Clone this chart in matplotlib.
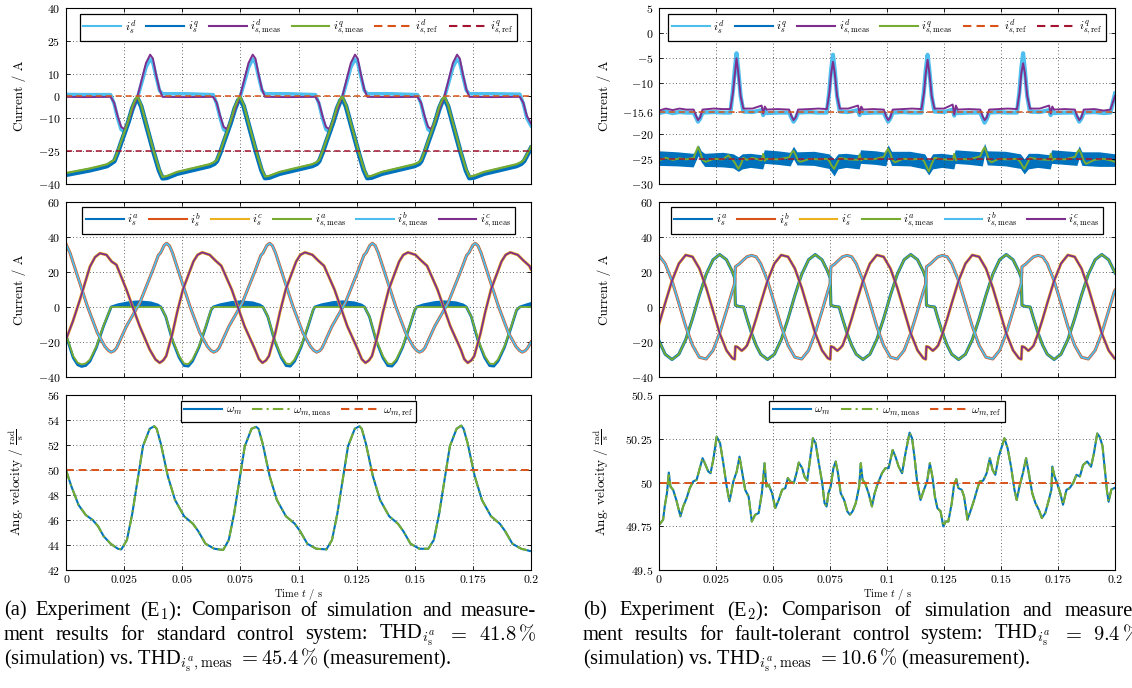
"""Two-column figure: simulation vs. measurement, standard (a) and fault-tolerant (b) control.

Rows: dq currents, phase currents, mechanical angular velocity over 0..0.2 s.
All traces are read off the reference picture as (time in ms, value) pairs.
"""

import matplotlib
matplotlib.use("Agg")
import matplotlib.pyplot as plt
from matplotlib.lines import Line2D
import numpy as np

plt.rcParams["font.family"] = "cmr10"
plt.rcParams["mathtext.fontset"] = "cm"
plt.rcParams["axes.formatter.use_mathtext"] = True

BLUE = "#0072BD"
ORANGE = "#D95319"
YELLOW = "#EDB120"
PURPLE = "#7E2F8E"
GREEN = "#77AC30"
LIGHTBLUE = "#4DBEEE"
DARKRED = "#A2142F"

# ---------------------------------------------------------------- (a) dq currents
IQ_A_MEAS = [
    (0, -35), (5, -34), (10, -33), (14, -32), (17.7, -31),
    (20.8, -29), (22.3, -25), (23.9, -20), (25.6, -15), (27.0, -10.5), (28.5, -5), (30.0, -1.2), (30.8, -0.3),
    (32.3, -4), (34.6, -13), (37.7, -25), (40.0, -33), (41.5, -36.8), (43.3, -36.4), (47.8, -34.5), (55.8, -32.5),
    (61.8, -31), (63.8, -30),
    (64.9, -29), (66.4, -25), (68.0, -20), (69.7, -15), (71.1, -10.5), (72.6, -5), (74.1, -1.2), (74.9, -0.3),
    (76.4, -4), (78.7, -13), (81.8, -25), (84.1, -33), (85.6, -36.6), (87.4, -36.3), (91.9, -34.5), (99.9, -32.5),
    (105.9, -31), (107.9, -30),
    (108.9, -29), (110.4, -25), (112.0, -20), (113.7, -15), (115.1, -10.5), (116.6, -5), (118.1, -1.2), (118.9, -0.3),
    (120.4, -4), (122.7, -13), (125.8, -25), (128.1, -33), (129.6, -36.6), (131.4, -36.3), (135.9, -34.5),
    (143.9, -32.5), (149.9, -31), (151.9, -30),
    (152.8, -29), (154.3, -25), (155.9, -20), (157.6, -15), (159.0, -10.5), (160.5, -5), (162.0, -1.2), (162.8, -0.3),
    (164.3, -4), (166.6, -13), (169.7, -25), (172.0, -33), (173.5, -36.6), (175.3, -36.3), (179.8, -34.5),
    (187.8, -32.5), (193.8, -31), (195.8, -30),
    (197.0, -29), (198.5, -26), (200, -23),
]
IQ_A_SIM = [
    (0, -35.8), (5, -34.8), (10, -33.8), (14, -32.8), (17.7, -31.8),
    (20.8, -29.6), (22.3, -25.6), (23.9, -20.6), (25.6, -15.6), (27.0, -11.1), (28.5, -5.6), (30.0, -1.9), (30.8, -1.2),
    (32.3, -4.6), (34.6, -13.6), (37.7, -25.6), (40.0, -33.8), (41.5, -37.4), (43.3, -37.2), (47.8, -35.3),
    (55.8, -33.3), (61.8, -31.8), (63.8, -30.8),
    (64.9, -29.6), (66.4, -25.6), (68.0, -20.6), (69.7, -15.6), (71.1, -11.1), (72.6, -5.6), (74.1, -1.9), (74.9, -1.2),
    (76.4, -4.6), (78.7, -13.6), (81.8, -25.6), (84.1, -33.8), (85.6, -37.3), (87.4, -37.1), (91.9, -35.3),
    (99.9, -33.3), (105.9, -31.8), (107.9, -30.8),
    (108.9, -29.6), (110.4, -25.6), (112.0, -20.6), (113.7, -15.6), (115.1, -11.1), (116.6, -5.6), (118.1, -1.9),
    (118.9, -1.2), (120.4, -4.6), (122.7, -13.6), (125.8, -25.6), (128.1, -33.8), (129.6, -37.3), (131.4, -37.1),
    (135.9, -35.3), (143.9, -33.3), (149.9, -31.8), (151.9, -30.8),
    (152.8, -29.6), (154.3, -25.6), (155.9, -20.6), (157.6, -15.6), (159.0, -11.1), (160.5, -5.6), (162.0, -1.9),
    (162.8, -1.2), (164.3, -4.6), (166.6, -13.6), (169.7, -25.6), (172.0, -33.8), (173.5, -37.3), (175.3, -37.1),
    (179.8, -35.3), (187.8, -33.3), (193.8, -31.8), (195.8, -30.8),
    (197.0, -29.6), (198.5, -26.6), (200, -23.6),
]
ID_A_MEAS = [
    (0, -0.4), (8, -0.5),
    (19.2, -0.4), (20.7, -3), (22.2, -9), (23.7, -14), (25.0, -15), (26.7, -12), (28.7, -6), (30.8, 0), (32.7, 8),
    (34.4, 15), (36.2, 18.8), (37.4, 17), (38.7, 10), (40.2, 3), (41.5, -0.4), (51.2, -0.5),
    (63.3, -0.4), (64.8, -3), (66.3, -9), (67.8, -14), (69.1, -15), (70.8, -12), (72.8, -6), (74.9, 0), (76.8, 8),
    (78.5, 15), (80.3, 18.8), (81.5, 17), (82.8, 10), (84.3, 3), (85.6, -0.4), (95.3, -0.5),
    (107.3, -0.4), (108.8, -3), (110.3, -9), (111.8, -14), (113.1, -15), (114.8, -12), (116.8, -6), (118.9, 0),
    (120.8, 8), (122.5, 15), (124.3, 18.8), (125.5, 17), (126.8, 10), (128.3, 3), (129.6, -0.4), (139.3, -0.5),
    (151.2, -0.4), (152.7, -3), (154.2, -9), (155.7, -14), (157.0, -15), (158.7, -12), (160.7, -6), (162.8, 0),
    (164.7, 8), (166.4, 15), (168.2, 18.8), (169.4, 17), (170.7, 10), (172.2, 3), (173.5, -0.4), (183.2, -0.5),
    (195.2, -0.4), (196.7, -3), (198.2, -9), (200, -12.5),
]
ID_A_SIM = [
    (0, 0.7), (8, 0.6),
    (19.2, 0.6), (20.7, -3.5), (22.2, -10), (23.7, -15.2), (25.0, -16.2), (26.7, -13), (28.7, -6.5), (30.8, -0.5),
    (32.7, 6.5), (34.4, 13), (36.2, 16.8), (37.4, 15), (38.7, 9), (40.2, 2.5), (41.5, 1.0), (51.2, 1.0),
    (63.3, 0.6), (64.8, -3.5), (66.3, -10), (67.8, -15.2), (69.1, -16.2), (70.8, -13), (72.8, -6.5), (74.9, -0.5),
    (76.8, 6.5), (78.5, 13), (80.3, 16.8), (81.5, 15), (82.8, 9), (84.3, 2.5), (85.6, 1.0), (95.3, 1.0),
    (107.3, 0.6), (108.8, -3.5), (110.3, -10), (111.8, -15.2), (113.1, -16.2), (114.8, -13), (116.8, -6.5),
    (118.9, -0.5), (120.8, 6.5), (122.5, 13), (124.3, 16.8), (125.5, 15), (126.8, 9), (128.3, 2.5), (129.6, 1.0),
    (139.3, 1.0),
    (151.2, 0.6), (152.7, -3.5), (154.2, -10), (155.7, -15.2), (157.0, -16.2), (158.7, -13), (160.7, -6.5),
    (162.8, -0.5), (164.7, 6.5), (166.4, 13), (168.2, 16.8), (169.4, 15), (170.7, 9), (172.2, 2.5), (173.5, 1.0),
    (183.2, 1.0),
    (195.2, 0.8), (196.7, -3.5), (198.2, -10), (200, -13.5),
]
IDQ_A_REF = [0.0, -25.0]

# ---------------------------------------------------------------- (a) phase currents
IA_A_MEAS = [
    (0, -15.7), (3.1, -28), (5.0, -31.8), (6.7, -32.8), (8.5, -32.2), (10.3, -30), (13.1, -22.4), (16, -11),
    (18.9, -1.5),
    (19.4, 0), (40.8, 0), (42.9, -5.3), (45.8, -18.6), (48.7, -28), (50.8, -32.3), (52.6, -32.6), (54.4, -30),
    (57.2, -22.4), (60.1, -11), (62.4, -1.5),
    (63.3, 0), (84.7, 0), (86.8, -5.3), (89.7, -18.6), (92.6, -28), (94.7, -32.3), (96.5, -32.6), (98.3, -30),
    (101.1, -22.4), (104.0, -11), (106.3, -1.5),
    (107.0, 0), (128.4, 0), (130.5, -5.3), (133.4, -18.6), (136.3, -28), (138.4, -32.3), (140.2, -32.6),
    (142.0, -30), (144.8, -22.4), (147.7, -11), (150.0, -1.5),
    (150.8, 0), (172.2, 0), (174.3, -5.3), (177.2, -18.6), (180.1, -28), (182.2, -32.3), (184.0, -32.6),
    (185.8, -30), (188.6, -22.4), (191.5, -11), (193.8, -1.5),
    (195.2, 0), (200, 0),
]
IA_A_SIM = [
    (0, -16.2), (3.1, -29), (5.0, -33), (6.7, -34), (8.5, -33.4), (10.3, -31), (13.1, -23), (16, -11.5),
    (18.9, -1.8),
    (19.4, 0), (22.4, 1.3), (27.4, 2.6), (31.4, 3.0), (36.4, 2.4), (39.4, 1.2), (40.8, 0), (42.9, -5.5),
    (45.8, -19.2), (48.7, -29), (50.8, -33.5), (52.6, -33.8), (54.4, -31), (57.2, -23), (60.1, -11.5), (62.4, -1.8),
    (63.3, 0), (66.3, 1.3), (71.3, 2.6), (75.3, 3.0), (80.3, 2.4), (83.3, 1.2), (84.7, 0), (86.8, -5.5),
    (89.7, -19.2), (92.6, -29), (94.7, -33.5), (96.5, -33.8), (98.3, -31), (101.1, -23), (104.0, -11.5),
    (106.3, -1.8),
    (107.0, 0), (110.0, 1.3), (115.0, 2.6), (119.0, 3.0), (124.0, 2.4), (127.0, 1.2), (128.4, 0), (130.5, -5.5),
    (133.4, -19.2), (136.3, -29), (138.4, -33.5), (140.2, -33.8), (142.0, -31), (144.8, -23), (147.7, -11.5),
    (150.0, -1.8),
    (150.8, 0), (153.8, 1.3), (158.8, 2.6), (162.8, 3.0), (167.8, 2.4), (170.8, 1.2), (172.2, 0), (174.3, -5.5),
    (177.2, -19.2), (180.1, -29), (182.2, -33.5), (184.0, -33.8), (185.8, -31), (188.6, -23), (191.5, -11.5),
    (193.8, -1.8),
    (195.2, 0), (198.2, 1.3), (200, 2.0),
]
IB_A = [
    (0, 36), (1.7, 31), (5.0, 17.5), (9.2, 0.4), (13.5, -14.8), (16.7, -22.5), (18.2, -24.8), (19.4, -25.8),
    (20.7, -25), (21.7, -23.5), (26.0, -11), (31.7, 2.3), (37.4, 21.3), (39.7, 29.5), (40.7, 31), (42.2, 35.2),
    (43.3, 36.4), (44.5, 35), (45.8, 31), (49.1, 17.5), (53.3, 0.4), (57.6, -14.8), (60.8, -22.5), (62.3, -24.8),
    (63.5, -25.8), (64.8, -25), (65.8, -23.5), (70.1, -11), (75.8, 2.3), (81.5, 21.3), (83.8, 29.5), (84.8, 31),
    (86.4, 35.2),
    (87.6, 36.4), (88.8, 35), (90.1, 31), (93.4, 17.5), (97.6, 0.4), (101.9, -14.8), (105.1, -22.5),
    (106.6, -24.8), (107.8, -25.8), (109.1, -25), (110.1, -23.5), (114.4, -11), (120.1, 2.3), (125.8, 21.3),
    (128.1, 29.5), (129.1, 31), (130.7, 35.2),
    (131.8, 36.4), (133.0, 35), (134.3, 31), (137.6, 17.5), (141.8, 0.4), (146.1, -14.8), (149.3, -22.5),
    (150.8, -24.8), (152.0, -25.8), (153.3, -25), (154.3, -23.5), (158.6, -11), (164.3, 2.3), (170.0, 21.3),
    (172.3, 29.5), (173.3, 31), (174.9, 35.2),
    (176.0, 36.4), (177.2, 35), (178.5, 31), (181.8, 17.5), (186.0, 0.4), (190.3, -14.8), (193.5, -22.5),
    (195.0, -24.8), (196.2, -25.8), (197.5, -25), (198.5, -23.5), (200, -20),
]
IC_A = [
    (0, -18.6), (3, -8), (6.0, 4.2), (10.3, 23.1), (12.5, 28.5), (14.6, 30.7), (17.4, 29.8), (19.6, 26),
    (21.7, 24.1), (26.0, 9.9), (31.7, -11), (36.0, -24.3), (38.5, -30),
    (40.3, -31.9), (41.8, -30.5), (43.1, -28), (45.8, -15), (47.8, -3), (50.3, 10), (54.8, 26), (56.6, 29.8),
    (58.6, 31.2), (61.8, 29.8), (64.3, 26.5), (66.8, 23.5), (71.3, 9.9), (76.8, -11), (81.3, -24.3), (83.0, -29.8),
    (84.5, -31.9), (86.0, -30.5), (87.3, -28), (90.0, -15), (92.0, -3), (94.5, 10), (99.0, 26), (100.8, 29.8),
    (102.8, 31.2), (106.0, 29.8), (108.5, 26.5), (111.0, 23.5), (115.5, 9.9), (121.0, -11), (125.5, -24.3),
    (127.2, -29.8),
    (128.8, -31.9), (130.3, -30.5), (131.6, -28), (134.3, -15), (136.3, -3), (138.8, 10), (143.3, 26),
    (145.1, 29.8), (147.1, 31.2), (150.3, 29.8), (152.8, 26.5), (155.3, 23.5), (159.8, 9.9), (165.3, -11),
    (169.8, -24.3), (171.3, -29.8),
    (172.8, -31.9), (174.3, -30.5), (175.6, -28), (178.3, -15), (180.3, -3), (182.8, 10), (187.3, 26),
    (189.1, 29.8), (191.1, 31.2), (194.3, 29.8), (196.8, 26.5), (199.3, 23.5), (200, 21.5),
]

# ---------------------------------------------------------------- (a) angular velocity
W_A = [
    (0, 50.0), (2.3, 48.7), (5.4, 47.2), (8.5, 46.4), (11.5, 46.0), (13.8, 45.5), (16.2, 44.7), (19.2, 44.1),
    (22.3, 43.7),
    (23.8, 43.65), (26.2, 44.4), (28.5, 46.5), (30.8, 49.2), (33.1, 51.9), (36.0, 53.3), (38.0, 53.5), (39.0, 53.3),
    (40.8, 52.1), (43.8, 49.5), (46.9, 47.6), (50.8, 46.3), (54.6, 45.7), (56.9, 45.1), (60.0, 44.1), (63.8, 43.7),
    (67.6, 43.6), (70.0, 44.4), (72.3, 46.5), (74.6, 49.2), (76.9, 51.9), (79.8, 53.3), (81.8, 53.45), (82.8, 53.3),
    (84.6, 52.1), (87.6, 49.5), (90.7, 47.6), (94.6, 46.3), (98.4, 45.7), (100.7, 45.1), (103.8, 44.1),
    (107.6, 43.7),
    (112.0, 43.65), (114.4, 44.4), (116.7, 46.5), (119.0, 49.2), (121.3, 51.9), (124.2, 53.3), (126.2, 53.5),
    (127.2, 53.3), (129.0, 52.1), (132.0, 49.5), (135.1, 47.6), (139.0, 46.3), (142.8, 45.7), (145.1, 45.1),
    (148.2, 44.1), (152.0, 43.7),
    (155.8, 43.7), (158.2, 44.4), (160.5, 46.5), (162.8, 49.2), (165.1, 51.9), (168.0, 53.3), (170.0, 53.55),
    (171.0, 53.3), (172.8, 52.1), (175.8, 49.5), (178.9, 47.6), (182.8, 46.3), (186.6, 45.7), (188.9, 45.1),
    (192.0, 44.1), (195.8, 43.7), (200, 43.5),
]
W_A_REF = 50.0

# ---------------------------------------------------------------- (b) dq currents
ID_B_MEAS = [
    (0, -15.4), (3, -15.0), (6, -15.3), (9, -15.0), (12, -15.2), (15.2, -15.2), (16.3, -16.5), (17.1, -17.3),
    (18.0, -16.8), (19.1, -15.2), (24, -15.0), (28, -15.1), (31.3, -15.1), (32.4, -12), (33.3, -8), (34.0, -5),
    (34.8, -8), (35.8, -12.5), (37.0, -15), (41, -15), (45.0, -14.4), (45.7, -16), (46.4, -14.6), (47.2, -15.2),
    (52, -15.1), (57.1, -15.2), (58.1, -16.5), (59.0, -17.3), (59.9, -16.8), (61.0, -15.2), (66, -15.1),
    (70, -15.0), (73.6, -15.1), (74.7, -12), (75.5, -8), (76.3, -5.7), (77.1, -8), (78.1, -12.5), (79.3, -15),
    (83, -15.0), (87.3, -14.4), (88.0, -16), (88.7, -14.6), (89.5, -15.2), (94, -15.1), (98.6, -15.2),
    (99.6, -16.5), (100.5, -17.3), (101.4, -16.8), (102.5, -15.2), (107, -15.1), (111, -15.0), (115.1, -15.1),
    (116.2, -12), (117.0, -8), (117.8, -5.3), (118.6, -8), (119.6, -12.5), (120.8, -15), (125, -15.0),
    (128.8, -14.2), (129.5, -16.2), (130.2, -14.4), (131, -15.2), (136, -15.1), (140.9, -15.2), (141.9, -16.5),
    (142.8, -17.3), (143.7, -16.8), (144.8, -15.2), (149, -15.1), (153, -15.0), (157.0, -15.1), (158.1, -12),
    (158.9, -8), (159.7, -6), (160.5, -8), (161.5, -12.5), (162.7, -15), (167, -15.0), (171.1, -14.4),
    (171.8, -16), (172.5, -14.6), (173.3, -15.2), (178, -15.1), (182.4, -15.2), (183.4, -16.5), (184.3, -17.3),
    (185.2, -16.8), (186.3, -15.2), (191, -15.1), (195, -15.4), (198, -15.2), (200, -12.5),
]
ID_B_SIM = [
    (0, -15.9), (3, -15.6), (6, -15.9), (9, -15.7), (12, -15.8), (15.2, -15.8), (16.3, -16.8), (17.1, -17.6),
    (18.0, -17.0), (19.1, -15.8), (24, -15.7), (28, -15.8), (31.3, -15.8), (32.4, -11.5), (33.3, -7), (34.0, -4.0),
    (34.8, -7.5), (35.8, -12.5), (37.0, -15.6), (41, -15.7), (45.0, -15.3), (45.7, -16.3), (46.4, -15.4),
    (47.2, -15.9), (52, -15.8), (57.1, -15.8), (58.1, -16.8), (59.0, -17.6), (59.9, -17.0), (61.0, -15.8),
    (66, -15.7), (70, -15.8), (73.6, -15.8), (74.7, -11.5), (75.5, -7.3), (76.3, -4.3), (77.1, -7.5),
    (78.1, -12.5), (79.3, -15.6), (83, -15.7), (87.3, -15.3), (88.0, -16.3), (88.7, -15.4), (89.5, -15.9),
    (94, -15.8), (98.6, -15.8), (99.6, -16.8), (100.5, -17.6), (101.4, -17.0), (102.5, -15.8), (107, -15.7),
    (111, -15.8), (115.1, -15.8), (116.2, -11.5), (117.0, -7.3), (117.8, -4.3), (118.6, -7.5), (119.6, -12.5),
    (120.8, -15.6), (125, -15.7), (128.8, -15.2), (129.5, -16.4), (130.2, -15.3), (131, -15.9), (136, -15.8),
    (140.9, -15.8), (141.9, -16.9), (142.8, -17.8), (143.7, -17.1), (144.8, -15.8), (149, -15.7), (153, -15.8),
    (157.0, -15.8), (158.1, -11.5), (158.9, -7), (159.7, -4.0), (160.5, -7.5), (161.5, -12.5), (162.7, -15.6),
    (167, -15.7), (171.1, -15.3), (171.8, -16.3), (172.5, -15.4), (173.3, -15.9), (178, -15.8), (182.4, -15.8),
    (183.4, -16.8), (184.3, -17.6), (185.2, -17.0), (186.3, -15.8), (191, -15.7), (195, -15.9), (198, -15.8),
    (200, -12.0),
]
IQ_B_MEAS = [
    (0, -25.3), (3, -24.8), (6, -25.2), (9, -24.9), (12, -25.1), (15.2, -24.8), (16.3, -23.5), (17.1, -22.6),
    (18.0, -23.6), (19.1, -25.2), (20.5, -25.6), (24, -25.0), (28, -25.1), (30.4, -24.3), (31.3, -24.8),
    (32.4, -25.2), (33.3, -25.8), (34.8, -27), (35.8, -26.2), (37.0, -24.8), (38.5, -25.2), (41, -24.8),
    (45.0, -25.3), (45.7, -24.0), (46.4, -25.4), (47.2, -25), (52, -25.1), (57.1, -24.7), (58.1, -23.8),
    (59.0, -23.4), (59.9, -24.2), (61.0, -25.3), (62.0, -25.6), (66, -25.0), (70, -25.1), (73.6, -25.0),
    (74.7, -25.4), (75.5, -26.2), (76.8, -27), (78.1, -25.8), (79.3, -24.8), (83, -25.1), (87.3, -25.2),
    (88.0, -24.1), (88.7, -25.3), (89.5, -25), (94, -25.1), (98.6, -24.6), (99.6, -23.6), (100.5, -23.0),
    (101.4, -23.9), (102.5, -25.3), (103.5, -25.7), (107, -25.0), (111, -25.1), (115.1, -25.0), (116.2, -25.4),
    (117.0, -26.2), (118.3, -27.5), (119.6, -26), (120.8, -24.8), (125, -25.1), (128.8, -25.2), (129.5, -24.0),
    (130.2, -25.3), (131, -25.0), (136, -25.1), (140.9, -24.5), (141.9, -23.4), (142.8, -22.7), (143.7, -23.8),
    (144.8, -25.3), (145.8, -25.7), (149, -25.0), (153, -25.1), (157.0, -25.0), (158.1, -25.4), (158.9, -26.0),
    (160.2, -27.0), (161.5, -25.9), (162.7, -24.8), (167, -25.1), (171.1, -25.2), (171.8, -24.0), (172.5, -25.3),
    (173.3, -25.0), (178, -25.1), (182.4, -24.6), (183.4, -23.7), (184.3, -23.2), (185.2, -24.0), (186.3, -25.4),
    (187.3, -26.0), (191, -25.2), (195, -25.0), (198, -25.3), (200, -25.6),
]
# noisy simulated i_q is drawn as a band: (t, upper edge, lower edge)
IQ_B_SIM_BAND = [
    (0, -23.4, -26.3), (8, -23.6, -26.4), (15, -23.9, -26.6), (16.5, -23.2, -25.0), (17.2, -22.2, -24.4),
    (18.5, -23.4, -25.6), (20, -23.9, -26.5), (28, -23.7, -26.6), (32.5, -24.0, -26.8), (34.8, -24.6, -27.5),
    (36.5, -24.0, -27.0), (40, -23.9, -26.7), (45.5, -24.2, -27.0), (46.2, -23.2, -25.9), (52, -23.4, -26.1),
    (57.5, -23.7, -26.4), (59, -22.5, -25.0), (60.5, -23.6, -26.2), (68, -23.5, -26.3), (74.5, -24.0, -26.9),
    (76.8, -25.0, -28.4), (78.5, -24.0, -27.0), (82, -23.9, -26.7), (87.8, -24.2, -27.0), (88.4, -23.2, -25.9),
    (95, -23.4, -26.1), (99.5, -23.7, -26.4), (100.5, -22.2, -24.5), (102, -23.5, -26.3), (110, -23.5, -26.4),
    (116.5, -24.0, -27.0), (118.3, -25.3, -28.2), (120, -24.0, -27.0), (124, -23.9, -26.7), (129.3, -24.2, -27.0),
    (129.9, -23.2, -25.9), (136, -23.4, -26.1), (141.8, -23.6, -26.4), (142.8, -21.9, -24.2), (144, -23.4, -26.2),
    (152, -23.5, -26.4), (158.5, -24.0, -26.9), (160.2, -25.0, -28.0), (162, -23.9, -27.0), (166, -23.9, -26.7),
    (171.6, -24.2, -27.0), (172.2, -23.2, -25.9), (178, -23.4, -26.1), (183.3, -23.6, -26.3), (184.3, -22.4, -24.8),
    (185.5, -23.6, -26.3), (193, -23.6, -26.5), (200, -24.0, -26.5),
]
IDQ_B_REF = [-15.6, -25.0]

# ---------------------------------------------------------------- (b) phase currents
IA_B = [
    (0, -19.3), (2.7, -27), (5.7, -30), (8.7, -27), (11.7, -18.7), (14.7, -6.7), (17.7, 6.7), (20.7, 18.7),
    (23.7, 27),
    (26.6, 30), (29.6, 27), (32.1, 20.4), (33.2, 16.5), (33.5, 1), (35.1, 0.3), (37.1, 0), (38.6, -6.7),
    (40.6, -15), (42.6, -21.9), (44.6, -27), (47.6, -30), (50.6, -27), (53.6, -18.7), (56.6, -6.7), (59.6, 6.7),
    (62.6, 18.7), (65.6, 27),
    (68.5, 30), (71.5, 27), (74.0, 20.4), (75.1, 16.5), (75.4, 1), (77.0, 0.3), (79.0, 0), (80.5, -6.7),
    (82.5, -15), (84.5, -21.9), (86.5, -27), (89.5, -30), (92.5, -27), (95.5, -18.7), (98.5, -6.7), (101.5, 6.7),
    (104.5, 18.7), (107.5, 27),
    (110.4, 30), (113.4, 27), (115.9, 20.4), (117.0, 16.5), (117.3, 1), (118.9, 0.3), (120.9, 0), (122.4, -6.7),
    (124.4, -15), (126.4, -21.9), (128.4, -27), (131.4, -30), (134.4, -27), (137.4, -18.7), (140.4, -6.7),
    (143.4, 6.7), (146.4, 18.7), (149.4, 27),
    (152.3, 30), (155.3, 27), (157.8, 20.4), (158.9, 16.5), (159.2, 1), (160.8, 0.3), (162.8, 0), (164.3, -6.7),
    (166.3, -15), (168.3, -21.9), (170.3, -27), (173.3, -30), (176.3, -27), (179.3, -18.7), (182.3, -6.7),
    (185.3, 6.7), (188.3, 18.7), (191.3, 27),
    (194.2, 30), (197.2, 27), (199.7, 20.4), (200, 19.5),
]
IB_B = [
    (0, 29.4), (2.7, 24.8), (5.7, 15), (8.7, 2.2), (11.7, -11), (14.7, -21.9), (17.7, -28.7), (20.7, -29.7),
    (23.7, -24.8),
    (26.6, -15), (29.6, -2.2), (32.1, 8.8), (33.2, 13.4), (33.5, 23), (35.1, 24.5), (37.1, 27), (38.6, 28.7),
    (40.6, 29.5), (42.6, 28.7), (44.6, 24.8), (47.6, 15), (50.6, 2.2), (53.6, -11), (56.6, -21.9), (59.6, -28.7),
    (62.6, -29.7), (65.6, -24.8),
    (68.5, -15), (71.5, -2.2), (74.0, 8.8), (75.1, 13.4), (75.4, 23), (77.0, 24.5), (79.0, 27), (80.5, 28.7),
    (82.5, 29.5), (84.5, 28.7), (86.5, 24.8), (89.5, 15), (92.5, 2.2), (95.5, -11), (98.5, -21.9), (101.5, -28.7),
    (104.5, -29.7), (107.5, -24.8),
    (110.4, -15), (113.4, -2.2), (115.9, 8.8), (117.0, 13.4), (117.3, 23), (118.9, 24.5), (120.9, 27),
    (122.4, 28.7), (124.4, 29.5), (126.4, 28.7), (128.4, 24.8), (131.4, 15), (134.4, 2.2), (137.4, -11),
    (140.4, -21.9), (143.4, -28.7), (146.4, -29.7), (149.4, -24.8),
    (152.3, -15), (155.3, -2.2), (157.8, 8.8), (158.9, 13.4), (159.2, 23), (160.8, 24.5), (162.8, 27),
    (164.3, 28.7), (166.3, 29.5), (168.3, 28.7), (170.3, 24.8), (173.3, 15), (176.3, 2.2), (179.3, -11),
    (182.3, -21.9), (185.3, -28.7), (188.3, -29.7), (191.3, -24.8),
    (194.2, -15), (197.2, -2.2), (199.7, 8.8), (200, 9.5),
]
IC_B = [
    (0, -9.8), (0.7, -6.7), (2.7, 2.2), (5.7, 15), (8.7, 24.8), (11.7, 29.7), (14.7, 28.7), (17.7, 22),
    (20.7, 11), (23.7, -2.2),
    (26.6, -15), (29.6, -24.8), (32.1, -29.2), (33.2, -29.9), (33.5, -22.5), (34.6, -23), (36.3, -25),
    (37.6, -23.5), (38.6, -22), (40.6, -15), (42.6, -6.7), (44.6, 2.2), (47.6, 15), (50.6, 24.8), (53.6, 29.7),
    (56.6, 28.7), (59.6, 22), (62.6, 11), (65.6, -2.2),
    (68.5, -15), (71.5, -24.8), (74.0, -29.2), (75.1, -29.9), (75.4, -22.5), (76.5, -23), (78.2, -25),
    (79.5, -23.5), (80.5, -22), (82.5, -15), (84.5, -6.7), (86.5, 2.2), (89.5, 15), (92.5, 24.8), (95.5, 29.7),
    (98.5, 28.7), (101.5, 22), (104.5, 11), (107.5, -2.2),
    (110.4, -15), (113.4, -24.8), (115.9, -29.2), (117.0, -29.9), (117.3, -22.5), (118.4, -23), (120.1, -25),
    (121.4, -23.5), (122.4, -22), (124.4, -15), (126.4, -6.7), (128.4, 2.2), (131.4, 15), (134.4, 24.8),
    (137.4, 29.7), (140.4, 28.7), (143.4, 22), (146.4, 11), (149.4, -2.2),
    (152.3, -15), (155.3, -24.8), (157.8, -29.2), (158.9, -29.9), (159.2, -22.5), (160.3, -23), (162.0, -25),
    (163.3, -23.5), (164.3, -22), (166.3, -15), (168.3, -6.7), (170.3, 2.2), (173.3, 15), (176.3, 24.8),
    (179.3, 29.7), (182.3, 28.7), (185.3, 22), (188.3, 11), (191.3, -2.2),
    (194.2, -15), (197.2, -24.8), (199.7, -29.2), (200, -29.5),
]

# ---------------------------------------------------------------- (b) angular velocity
W_B = [
    (0, 49.758), (1.8, 49.787), (2.5, 49.863), (3.5, 49.94), (4.3, 50.057), (5.0, 49.977), (6.2, 49.958),
    (7.6, 49.9), (9.4, 49.806), (10.6, 49.863), (12.1, 49.91), (13.5, 49.968), (15, 50.006), (16.5, 50.015),
    (17.9, 50.082), (19.1, 50.139), (20.1, 50.11), (21.6, 50.063), (22.6, 50.053), (23.8, 50.13), (25.3, 50.262),
    (26.8, 50.224), (28.2, 50.11), (29.7, 49.977), (30.9, 49.892), (31.5, 49.93), (32.6, 50.006), (34.1, 50.063),
    (35.3, 50.148), (36.3, 50.072), (37.8, 49.958), (39.3, 49.92), (40.7, 49.777), (42.2, 49.816),
    (43.7, 49.825), (45.1, 49.939), (46.3, 50.11), (47.1, 49.977), (48.1, 49.987), (49.6, 49.939), (51.0, 49.854),
    (52.5, 49.9), (54.0, 49.958), (55.4, 49.968), (56.5, 50.025), (57.6, 50.006), (59.1, 49.996), (60.3, 50.053),
    (61.3, 50.114), (62.8, 50.082), (63.8, 50.034), (65, 50.011), (66.2, 50.129), (67.5, 50.253), (68.7, 50.224),
    (70.1, 50.11), (71.6, 49.996), (72.6, 49.882), (73.5, 49.863), (74.3, 49.939), (75.3, 49.977), (76.5, 50.082),
    (77.5, 50.12), (78.5, 50.053), (79.7, 49.939), (81.2, 49.9), (82.6, 49.835), (83.7, 49.816), (84.9, 49.835),
    (86.3, 49.882), (87.8, 49.977), (88.5, 50.11), (89.3, 50.015), (90.4, 49.996), (91.9, 49.939),
    (93.4, 49.863), (94.6, 49.939), (96, 49.996), (97.8, 50.053), (99.3, 50.082), (100.7, 50.082),
    (102.5, 50.186), (103.7, 50.148), (105.1, 50.091), (106.6, 50.053), (108.1, 50.167), (109.9, 50.285),
    (111, 50.253), (112.2, 50.129), (113.2, 50.006), (114.7, 49.9), (116.2, 49.958), (117.6, 50.006),
    (118.8, 50.11), (119.9, 50.034), (121, 49.92), (122.1, 49.854), (123.5, 49.835), (124.7, 49.749),
    (125.7, 49.777), (126.9, 49.777), (128.4, 49.882), (129.4, 49.987), (130.4, 50.019), (131.3, 49.968),
    (132.8, 49.958), (133.8, 49.92), (135.3, 49.787), (136.8, 49.844), (138.2, 49.9), (139.7, 49.968),
    (140.7, 50.006), (142.2, 50.011), (143.7, 50.053), (145.1, 50.139), (146.3, 50.072), (147.5, 50.044),
    (149, 50.148), (151.5, 50.253), (152.9, 50.196), (154.4, 50.091), (155.9, 49.958), (156.9, 49.9),
    (158.1, 49.977), (159.6, 50.053), (161, 50.139), (162.2, 50.053), (163.7, 49.939), (165.1, 49.882),
    (166.6, 49.844), (167.9, 49.797), (169.4, 49.825), (170.6, 49.882), (172.1, 49.958), (172.5, 50.091),
    (173.5, 50.034), (174.6, 49.996), (176, 49.939), (177.2, 49.873), (178.7, 49.958), (180.1, 49.968),
    (181.6, 49.996), (183.1, 50.044), (184.6, 50.034), (186, 50.1), (187.8, 50.12), (189.5, 50.09),
    (190.8, 50.17), (192.2, 50.28), (193.3, 50.26), (194.5, 50.21), (195.6, 50.07), (196.5, 49.95),
    (197.2, 49.89), (198.4, 49.96), (200, 49.97),
]
W_B_REF = 50.0

# ---------------------------------------------------------------- ticks and texts
X_TICKS = [0, 0.025, 0.05, 0.075, 0.1, 0.125, 0.15, 0.175, 0.2]
X_TICK_LABELS = ["0", "0.025", "0.05", "0.075", "0.1", "0.125", "0.15", "0.175", "0.2"]
Y_TICKS_DQ_A = [-40, -25, -10, 0, 10, 25, 40]
Y_TICKS_DQ_B = [-30, -25, -20, -15.6, -10, -5, 0, 5]
Y_TICKS_ABC = [-40, -20, 0, 20, 40, 60]
Y_TICKS_W_A = [42, 44, 46, 48, 50, 52, 54, 56]
Y_TICKS_W_B = [49.5, 49.75, 50, 50.25, 50.5]

LABELS_DQ = [r"$i_s^d$", r"$i_s^q$", r"$i_{s,\mathrm{meas}}^d$", r"$i_{s,\mathrm{meas}}^q$",
             r"$i_{s,\mathrm{ref}}^d$", r"$i_{s,\mathrm{ref}}^q$"]
LABELS_ABC = [r"$i_s^a$", r"$i_s^b$", r"$i_s^c$", r"$i_{s,\mathrm{meas}}^a$", r"$i_{s,\mathrm{meas}}^b$",
              r"$i_{s,\mathrm{meas}}^c$"]
LABELS_W = [r"$\omega_m$", r"$\omega_{m,\mathrm{meas}}$", r"$\omega_{m,\mathrm{ref}}$"]

# caption: first two lines are justified word by word, the last line is set plain
CAPTION_A_WORDS = [
    ["(a)", "Experiment", "(E$_1$):", "Comparison", "of", "simulation", "and", "measure-"],
    ["ment", "results", "for", "standard", "control", "system:", r"THD$_{i_\mathrm{s}^a}$", "$=$", r"$41.8\,\%$"],
]
CAPTION_A_LAST = r"(simulation) vs. THD$_{i_\mathrm{s}^a,\mathrm{meas}}$ $= 45.4\,\%$ (measurement)."
CAPTION_B_WORDS = [
    ["(b)", "Experiment", "(E$_2$):", "Comparison", "of", "simulation", "and", "measure-"],
    ["ment", "results", "for", "fault-tolerant", "control", "system:", r"THD$_{i_\mathrm{s}^a}$", "$=$",
     r"$9.4\,\%$"],
]
CAPTION_B_LAST = r"(simulation) vs. THD$_{i_\mathrm{s}^a,\mathrm{meas}}$ $= 10.6\,\%$ (measurement)."

DASH = (0, (4, 2.5))
DASHDOT = (0, (5, 2, 1, 2))
CAPTION_FONT = dict(fontsize=14.8, family=["Liberation Serif", "DejaVu Serif"])


def xy(pairs):
    arr = np.asarray(pairs, dtype=float)
    return arr[:, 0] / 1000.0, arr[:, 1]


def tick_text(v):
    return f"${v:g}$"


def style(ax, yticks, ylim, ylabel, label_x, bottom):
    ax.set_xlim(0, 0.2)
    ax.set_ylim(*ylim)
    ax.set_xticks(X_TICKS)
    ax.set_xticklabels(X_TICK_LABELS if bottom else [])
    ax.set_yticks(yticks, [tick_text(v) for v in yticks])
    ax.tick_params(direction="in", top=True, right=True, length=3, width=0.6, labelsize=8.5, pad=4)
    ax.grid(True, color="#333333", linestyle=(0, (1, 3)), linewidth=0.6)
    for s in ax.spines.values():
        s.set_linewidth(0.8)
    ax.set_ylabel(ylabel, fontsize=9.5)
    ax.yaxis.set_label_coords(label_x, 0.5)


def legend(ax, entries, labels, y):
    # legend keys drawn as plain thin lines, like the reference
    handles = [Line2D([], [], color=c, lw=1.5, linestyle=ls) for c, ls in entries]
    leg = ax.legend(handles, labels, loc="upper center", bbox_to_anchor=(0.5, y), ncol=len(handles),
                    frameon=True, fancybox=False, edgecolor="black", framealpha=1, fontsize=8.5,
                    handlelength=3.2, handletextpad=0.3, columnspacing=0.85, borderpad=0.3, borderaxespad=0)
    leg.get_frame().set_linewidth(0.9)


def justified(fig, renderer, words, x0_px, x1_px, y_px):
    texts = [fig.text(0, 1 - y_px / 688, w, ha="left", va="center", **CAPTION_FONT) for w in words]
    widths = [t.get_window_extent(renderer).width for t in texts]
    gap = ((x1_px - x0_px) - sum(widths)) / (len(words) - 1)
    x = x0_px
    for t, w in zip(texts, widths):
        t.set_x(x / 1132)
        x += w + gap


fig = plt.figure(figsize=(11.32, 6.88), dpi=100)
cols = [(66 / 1132, 465 / 1132, -0.086), (659 / 1132, 456 / 1132, -0.105)]
rows = [(504 / 688, 176 / 688), (311 / 688, 175 / 688), (118 / 688, 175 / 688)]
axes = [[fig.add_axes([cx, ry, cw, rh]) for (cx, cw, _) in cols] for (ry, rh) in rows]

DQ_KEYS = [(LIGHTBLUE, "-"), (BLUE, "-"), (PURPLE, "-"), (GREEN, "-"), (ORANGE, DASH), (DARKRED, DASH)]
ABC_KEYS = [(BLUE, "-"), (ORANGE, "-"), (YELLOW, "-"), (GREEN, "-"), (LIGHTBLUE, "-"), (PURPLE, "-")]
W_KEYS = [(BLUE, "-"), (GREEN, DASHDOT), (ORANGE, DASH)]

# ---- row 1: dq currents
ax = axes[0][0]
ax.plot(*xy(ID_A_SIM), color=LIGHTBLUE, lw=2.6)
ax.plot(*xy(IQ_A_SIM), color=BLUE, lw=3.4)
ax.plot(*xy(ID_A_MEAS), color=PURPLE, lw=1.4)
ax.plot(*xy(IQ_A_MEAS), color=GREEN, lw=1.6)
ax.axhline(IDQ_A_REF[0], color=ORANGE, lw=1.1, linestyle=DASH)
ax.axhline(IDQ_A_REF[1], color=DARKRED, lw=1.1, linestyle=DASH)
style(ax, Y_TICKS_DQ_A, (-40, 40), "Current / A", cols[0][2], False)
legend(ax, DQ_KEYS, LABELS_DQ, 0.965)

ax = axes[0][1]
ax.plot(*xy(ID_B_SIM), color=LIGHTBLUE, lw=3.0)
band = np.asarray(IQ_B_SIM_BAND, dtype=float)
ax.fill_between(band[:, 0] / 1000.0, band[:, 1], band[:, 2], color=BLUE, lw=0)
ax.plot(*xy(ID_B_MEAS), color=PURPLE, lw=1.4)
ax.plot(*xy(IQ_B_MEAS), color=GREEN, lw=1.4)
ax.axhline(IDQ_B_REF[0], color=ORANGE, lw=1.1, linestyle=DASH)
ax.axhline(IDQ_B_REF[1], color=DARKRED, lw=1.1, linestyle=DASH)
style(ax, Y_TICKS_DQ_B, (-30, 5), "Current / A", cols[1][2], False)
legend(ax, DQ_KEYS, LABELS_DQ, 0.965)

# ---- row 2: phase currents
ax = axes[1][0]
t_sim, v_sim = xy(IA_A_SIM)
ax.plot(t_sim, v_sim, color=BLUE, lw=2.0)
ax.fill_between(t_sim, 0, v_sim, where=v_sim > 0, color=BLUE, lw=0)
ax.plot(*xy(IB_A), color=ORANGE, lw=2.2)
ax.plot(*xy(IC_A), color=YELLOW, lw=2.2)
ax.plot(*xy(IA_A_MEAS), color=GREEN, lw=1.3)
ax.plot(*xy(IB_A), color=LIGHTBLUE, lw=1.3)
ax.plot(*xy(IC_A), color=PURPLE, lw=1.3)
style(ax, Y_TICKS_ABC, (-40, 60), "Current / A", cols[0][2], False)
legend(ax, ABC_KEYS, LABELS_ABC, 0.971)

ax = axes[1][1]
ax.plot(*xy(IA_B), color=BLUE, lw=2.2)
ax.plot(*xy(IB_B), color=ORANGE, lw=2.2)
ax.plot(*xy(IC_B), color=YELLOW, lw=2.2)
ax.plot(*xy(IA_B), color=GREEN, lw=1.3)
ax.plot(*xy(IB_B), color=LIGHTBLUE, lw=1.3)
ax.plot(*xy(IC_B), color=PURPLE, lw=1.3)
style(ax, Y_TICKS_ABC, (-40, 60), "Current / A", cols[1][2], False)
legend(ax, ABC_KEYS, LABELS_ABC, 0.971)

# ---- row 3: angular velocity
for ax, data, ref, yt, yl, lx in [
    (axes[2][0], W_A, W_A_REF, Y_TICKS_W_A, (42, 56), cols[0][2]),
    (axes[2][1], W_B, W_B_REF, Y_TICKS_W_B, (49.5, 50.5), cols[1][2]),
]:
    ax.plot(*xy(data), color=BLUE, lw=1.5)
    ax.plot(*xy(data), color=GREEN, lw=1.5, linestyle=DASHDOT)
    ax.axhline(ref, color=ORANGE, lw=1.4, linestyle=DASH)
    style(ax, yt, yl, r"Ang. velocity / $\frac{\mathrm{rad}}{\mathrm{s}}$", lx, True)
    legend(ax, W_KEYS, LABELS_W, 0.966)
    pos = ax.get_position()
    fig.text(pos.x0 + pos.width / 2, 1 - 594 / 688, r"Time $t$ / s", ha="center", va="center", fontsize=7.5)

# ---- captions (the right-hand one runs past the figure edge, as in the reference)
renderer = fig.canvas.get_renderer()
for (x0, x1), words, last in [((4, 536), CAPTION_A_WORDS, CAPTION_A_LAST),
                              ((583, 1140), CAPTION_B_WORDS, CAPTION_B_LAST)]:
    for i, line in enumerate(words):
        justified(fig, renderer, line, x0, x1, 611 + 24 * i)
    fig.text(x0 / 1132, 1 - (611 + 49) / 688, last, ha="left", va="center", **CAPTION_FONT)

fig.savefig("out.png", dpi=100)
